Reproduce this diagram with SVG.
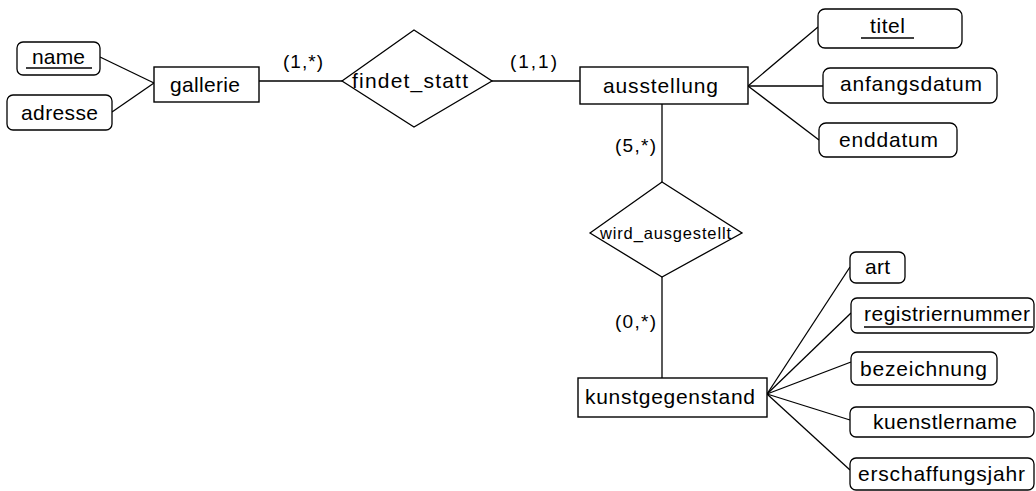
<svg xmlns="http://www.w3.org/2000/svg" width="1036" height="491" viewBox="0 0 1036 491">
  <style>
    .ent { fill: #ffffff; stroke: #000000; stroke-width: 1.4; }
    .rel { fill: #ffffff; stroke: #000000; stroke-width: 1.3; }
    .att { fill: #ffffff; stroke: #000000; stroke-width: 1.3; }
    .key { stroke: #000000; stroke-width: 1.4; }
    .conn { stroke: #000000; stroke-width: 1.3; fill: none; }
    text { font-family: "Liberation Sans", Arial, sans-serif; font-size: 21px; fill: #000000; }
    .small { font-size: 16.5px; }
    .card { font-size: 19px; }
  </style>
  <rect width="1036" height="491" fill="#ffffff"/>

  <!-- connectors and cardinalities -->
  <g id="connectors">
    <line class="conn" x1="100" y1="57" x2="154" y2="83"/>
    <line class="conn" x1="112" y1="112" x2="154" y2="83"/>
    <line class="conn" x1="259" y1="81" x2="342" y2="81"/>
    <line class="conn" x1="492" y1="81" x2="580" y2="81"/>
    <line class="conn" x1="748" y1="86" x2="818" y2="27"/>
    <line class="conn" x1="748" y1="86" x2="823" y2="86"/>
    <line class="conn" x1="748" y1="86" x2="819" y2="140"/>
    <line class="conn" x1="662" y1="104" x2="662" y2="182"/>
    <line class="conn" x1="662" y1="277" x2="662" y2="378"/>
    <line class="conn" x1="767" y1="394" x2="850" y2="267"/>
    <line class="conn" x1="767" y1="394" x2="851" y2="313"/>
    <line class="conn" x1="767" y1="394" x2="851" y2="362"/>
    <line class="conn" x1="767" y1="394" x2="850" y2="420"/>
    <line class="conn" x1="767" y1="394" x2="850" y2="470"/>
    <text class="card" x="283" y="68" textLength="40" lengthAdjust="spacing">(1,*)</text>
    <text class="card" x="510" y="68" textLength="47" lengthAdjust="spacing">(1,1)</text>
    <text class="card" x="615" y="152" textLength="41" lengthAdjust="spacing">(5,*)</text>
    <text class="card" x="615" y="328" textLength="41" lengthAdjust="spacing">(0,*)</text>
  </g>

  <!-- entities -->
  <g id="gallerie">
    <rect class="ent" x="154" y="67" width="105" height="35"/>
    <text x="170" y="92" textLength="70" lengthAdjust="spacing">gallerie</text>
  </g>
  <g id="ausstellung">
    <rect class="ent" x="580" y="67" width="168" height="37"/>
    <text x="603" y="93" textLength="115" lengthAdjust="spacing">ausstellung</text>
  </g>
  <g id="kunstgegenstand">
    <rect class="ent" x="578" y="378" width="189" height="39"/>
    <text x="585" y="404" textLength="170" lengthAdjust="spacing">kunstgegenstand</text>
  </g>

  <!-- relationships -->
  <g id="findet_statt">
    <polygon class="rel" points="342,81 414,30 492,81 414,127"/>
    <text x="352" y="88" textLength="116" lengthAdjust="spacing">findet_statt</text>
  </g>
  <g id="wird_ausgestellt">
    <polygon class="rel" points="590,233 662,182 742,233 662,277"/>
    <text class="small" x="600" y="239" textLength="131" lengthAdjust="spacing">wird_ausgestellt</text>
  </g>

  <!-- attributes of gallerie -->
  <g id="attr-name">
    <rect class="att" x="17" y="42" width="83" height="33" rx="6"/>
    <text x="32" y="64" textLength="53" lengthAdjust="spacing">name</text>
    <line class="key" x1="26" y1="68" x2="92" y2="68"/>
  </g>
  <g id="attr-adresse">
    <rect class="att" x="7" y="95" width="105" height="35" rx="6"/>
    <text x="21" y="120" textLength="77" lengthAdjust="spacing">adresse</text>
  </g>

  <!-- attributes of ausstellung -->
  <g id="attr-titel">
    <rect class="att" x="818" y="9" width="144" height="39" rx="7"/>
    <text x="870" y="33" textLength="35" lengthAdjust="spacing">titel</text>
    <line class="key" x1="861" y1="38" x2="914" y2="38"/>
  </g>
  <g id="attr-anfangsdatum">
    <rect class="att" x="823" y="68" width="174" height="35" rx="7"/>
    <text x="840" y="91" textLength="142" lengthAdjust="spacing">anfangsdatum</text>
  </g>
  <g id="attr-enddatum">
    <rect class="att" x="819" y="123" width="138" height="34" rx="7"/>
    <text x="839" y="147" textLength="99" lengthAdjust="spacing">enddatum</text>
  </g>

  <!-- attributes of kunstgegenstand -->
  <g id="attr-art">
    <rect class="att" x="850" y="252" width="55" height="31" rx="6"/>
    <text x="865" y="274" textLength="25" lengthAdjust="spacing">art</text>
  </g>
  <g id="attr-registriernummer">
    <rect class="att" x="851" y="298" width="183" height="35" rx="6"/>
    <text x="864" y="321" textLength="166" lengthAdjust="spacing">registriernummer</text>
    <line class="key" x1="864" y1="327" x2="1033" y2="327"/>
  </g>
  <g id="attr-bezeichnung">
    <rect class="att" x="851" y="352" width="146" height="33" rx="6"/>
    <text x="860" y="376" textLength="127" lengthAdjust="spacing">bezeichnung</text>
  </g>
  <g id="attr-kuenstlername">
    <rect class="att" x="850" y="407" width="184" height="30" rx="6"/>
    <text x="873" y="429" textLength="144" lengthAdjust="spacing">kuenstlername</text>
  </g>
  <g id="attr-erschaffungsjahr">
    <rect class="att" x="850" y="458" width="184" height="32" rx="6"/>
    <text x="858" y="481" textLength="167" lengthAdjust="spacing">erschaffungsjahr</text>
  </g>
</svg>
